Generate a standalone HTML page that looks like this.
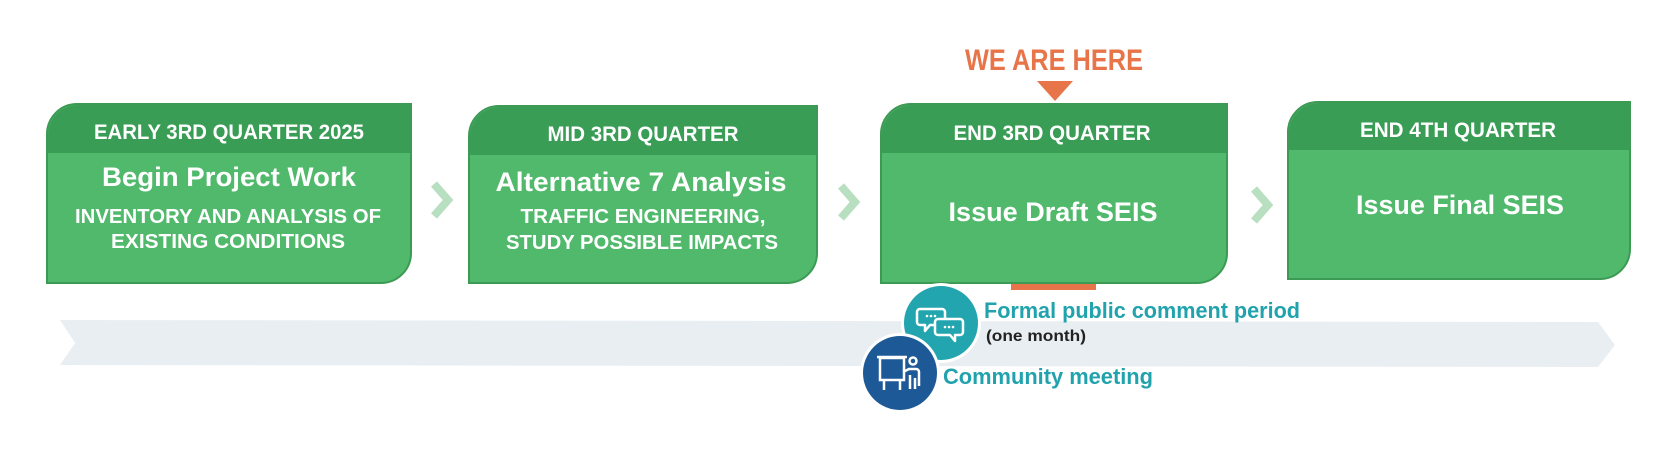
<!DOCTYPE html>
<html><head><meta charset="utf-8"><style>
html,body{margin:0;padding:0;background:#fff;}
svg{display:block;}
text{font-family:"Liberation Sans",sans-serif;font-weight:bold;}
</style></head><body>
<svg width="1678" height="454" viewBox="0 0 1678 454" xmlns="http://www.w3.org/2000/svg">
<defs>
<clipPath id="c1"><path d="M77,104 H411 V253 A30,30 0 0 1 381,283 H47 V134 A30,30 0 0 1 77,104 Z"/></clipPath>
</defs>
<!-- band -->
<polygon points="60,320 1598,322 1615,345 1598,367 60,365 75,343" fill="#e9eef2"/>
<!-- boxes -->
<g stroke="#3d9a54" stroke-width="2">
<path d="M77,104 H411 V253 A30,30 0 0 1 381,283 H47 V134 A30,30 0 0 1 77,104 Z" fill="#50b96b"/>
<path d="M499,106 H817 V253 A30,30 0 0 1 787,283 H469 V136 A30,30 0 0 1 499,106 Z" fill="#50b96b"/>
<path d="M911,104 H1227 V253 A30,30 0 0 1 1197,283 H881 V134 A30,30 0 0 1 911,104 Z" fill="#50b96b"/>
<path d="M1318,102 H1630 V249 A30,30 0 0 1 1600,279 H1288 V132 A30,30 0 0 1 1318,102 Z" fill="#50b96b"/>
</g>
<g fill="#3a9d56">
<path d="M78,105 H410 V153 H48 V135 A30,30 0 0 1 78,105 Z"/>
<path d="M500,107 H816 V155 H470 V137 A30,30 0 0 1 500,107 Z"/>
<path d="M912,105 H1226 V153 H882 V135 A30,30 0 0 1 912,105 Z"/>
<path d="M1319,103 H1629 V150 H1289 V133 A30,30 0 0 1 1319,103 Z"/>
</g>
<!-- chevrons -->
<g fill="none" stroke="#b9dfc1" stroke-width="8">
<polyline points="434,184 448,200 434,216"/>
<polyline points="841,186 855,202 841,218"/>
<polyline points="1254,189 1268,205 1254,221"/>
</g>
<!-- box texts -->
<g fill="#fff" text-anchor="middle" lengthAdjust="spacingAndGlyphs">
<text x="229" y="139" font-size="21" textLength="270" lengthAdjust="spacingAndGlyphs">EARLY 3RD QUARTER 2025</text>
<text x="229" y="186" font-size="27" textLength="254" lengthAdjust="spacingAndGlyphs">Begin Project Work</text>
<text x="228" y="223" font-size="20" textLength="306" lengthAdjust="spacingAndGlyphs">INVENTORY AND ANALYSIS OF</text>
<text x="228" y="248" font-size="20" textLength="234" lengthAdjust="spacingAndGlyphs">EXISTING CONDITIONS</text>
<text x="643" y="141" font-size="21" textLength="191" lengthAdjust="spacingAndGlyphs">MID 3RD QUARTER</text>
<text x="641" y="191" font-size="27" textLength="291" lengthAdjust="spacingAndGlyphs">Alternative 7 Analysis</text>
<text x="643" y="223" font-size="20" textLength="245" lengthAdjust="spacingAndGlyphs">TRAFFIC ENGINEERING,</text>
<text x="642" y="249" font-size="20" textLength="272" lengthAdjust="spacingAndGlyphs">STUDY POSSIBLE IMPACTS</text>
<text x="1052" y="140" font-size="21" textLength="197" lengthAdjust="spacingAndGlyphs">END 3RD QUARTER</text>
<text x="1053" y="221" font-size="27" textLength="209" lengthAdjust="spacingAndGlyphs">Issue Draft SEIS</text>
<text x="1458" y="137" font-size="21" textLength="196" lengthAdjust="spacingAndGlyphs">END 4TH QUARTER</text>
<text x="1460" y="214" font-size="27" textLength="208" lengthAdjust="spacingAndGlyphs">Issue Final SEIS</text>
</g>
<!-- we are here -->
<text x="965" y="70" font-size="30" fill="#e8744a" textLength="178" lengthAdjust="spacingAndGlyphs">WE ARE HERE</text>
<polygon points="1037,81 1073,81 1055,101" fill="#e8744a"/>
<rect x="1011" y="284" width="85" height="6" fill="#e8744a"/>
<!-- circles -->
<circle cx="941" cy="323" r="40" fill="#fff"/>
<circle cx="941" cy="323" r="37" fill="#22a5ae"/>
<g fill="none" stroke="#fff" stroke-width="2.5" stroke-linejoin="round">
<path d="M920,309 h22 a3,3 0 0 1 3,3 v10 a3,3 0 0 1 -3,3 h-12 l-5,6 v-6 h-5 a3,3 0 0 1 -3,-3 v-10 a3,3 0 0 1 3,-3 z"/>
<path d="M938,319 h22 a3,3 0 0 1 3,3 v10 a3,3 0 0 1 -3,3 h-5 v6 l-5,-6 h-12 a3,3 0 0 1 -3,-3 v-10 a3,3 0 0 1 3,-3 z" fill="#22a5ae"/>
</g>
<g fill="#fff"><circle cx="927" cy="316" r="1.3"/><circle cx="931" cy="316" r="1.3"/><circle cx="935" cy="316" r="1.3"/>
<circle cx="945" cy="327" r="1.3"/><circle cx="949" cy="327" r="1.3"/><circle cx="953" cy="327" r="1.3"/></g>
<circle cx="900" cy="373" r="40" fill="#fff"/>
<circle cx="900" cy="373" r="37" fill="#1c5996"/>
<g fill="none" stroke="#fff" stroke-width="2.5">
<rect x="880" y="358" width="24" height="22"/>
<line x1="877" y1="357" x2="907" y2="357"/>
<line x1="884" y1="380" x2="884" y2="390"/><line x1="900" y1="380" x2="900" y2="390"/>
<circle cx="913" cy="361" r="3.5"/>
<path d="M903,372 l6,-3 h7 a3,3 0 0 1 3,3 v14 M910,375 v14 M915,378 v11"/>
</g>
<!-- labels -->
<text x="984" y="318" font-size="22" fill="#21a3ad" textLength="316" lengthAdjust="spacingAndGlyphs">Formal public comment period</text>
<text x="986" y="341" font-size="16" fill="#222" textLength="100" lengthAdjust="spacingAndGlyphs">(one month)</text>
<text x="943" y="384" font-size="22" fill="#21a3ad" textLength="210" lengthAdjust="spacingAndGlyphs">Community meeting</text>
</svg>
</body></html>
